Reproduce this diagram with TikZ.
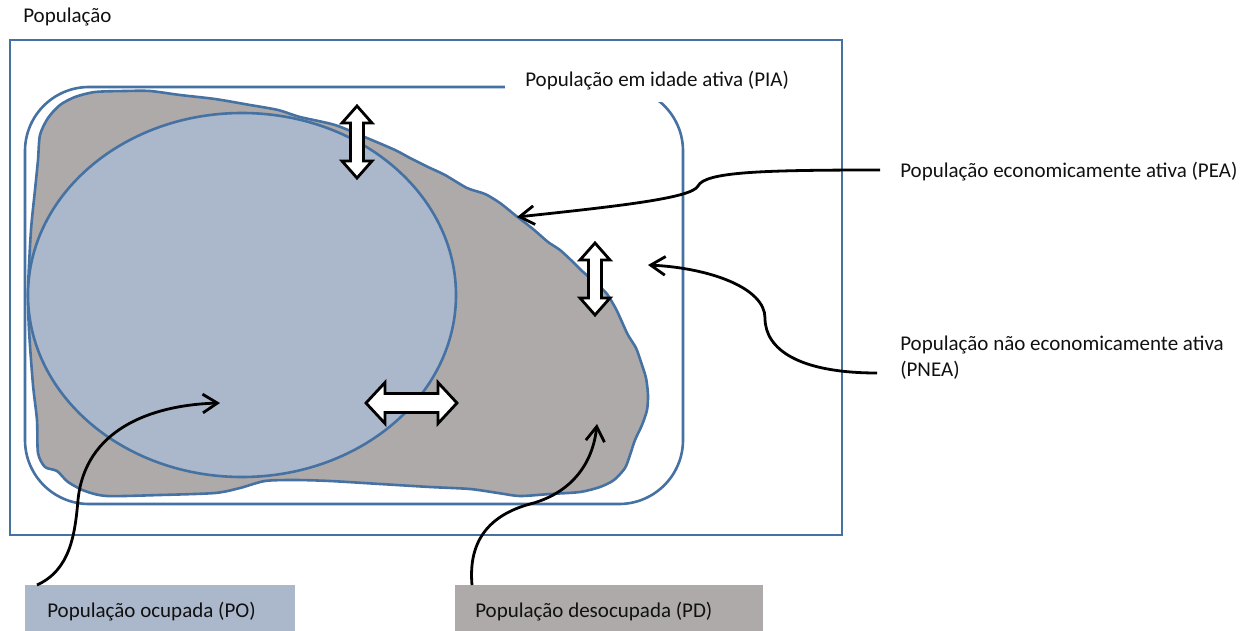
\documentclass[tikz,border=0pt]{standalone}
\usepackage{fontspec}
\setmainfont{Carlito}
\usetikzlibrary{arrows.meta}
\definecolor{edgeblue}{HTML}{4572A3}
\definecolor{pofill}{HTML}{ABB8CB}
\definecolor{pdfill}{HTML}{AEAAA9}
\definecolor{txt}{HTML}{111111}
\newcommand\lblfont{\fontsize{15.75pt}{18pt}\selectfont}
\tikzset{
  blueline/.style={draw=edgeblue, line width=1.95pt},
  conn/.style={draw=black, line width=2.1pt, -{Straight Barb[length=11pt,width=14pt]}},
  arrowbox/.style={draw=black, fill=white, line width=2.1pt, line join=miter},
  lbl/.style={font=\lblfont, text=txt, inner sep=0pt, anchor=base west},
  pics/dbl/.style args={#1/#2/#3/#4}{code={
    \draw[arrowbox] (0,0) -- (#4,#2) -- (#4,#3) -- (#1-#4,#3) -- (#1-#4,#2) -- (#1,0)
      -- (#1-#4,-#2) -- (#1-#4,-#3) -- (#4,-#3) -- (#4,-#2) -- cycle;}}
}
\begin{document}
\begin{tikzpicture}[x=0.75pt,y=-0.75pt]
\useasboundingbox (0,0) rectangle (1245,631);
% outer population rectangle
\draw[blueline] (10,40) rectangle (842,535);
\node[lbl] (pop) at (23,23) {População};
% PIA rounded rectangle
\draw[blueline, rounded corners=48pt] (25,87) rectangle (683,504);
% PEA blob
\draw[blueline, fill=pdfill] plot[smooth cycle, tension=0.45] coordinates {
(40,135) (48,118) (60,105) (75,97) (95,92) (125,91) (150,91) (180,95) (215,99) (250,105)
(278,110) (300,117) (335,125) (367,138) (395,150) (410,158) (428,167) (445,175) (467,188)
(485,194) (500,203) (515,215) (533,229) (548,242) (560,250) (573,262) (582,271) (596,283)
(607,294) (616,309) (622,322) (628,335) (636,348) (641,362) (646,378) (648,395) (647,410)
(642,425) (635,440) (630,455) (625,468) (614,480) (600,487) (580,492) (550,494) (520,496)
(498,493) (470,489) (430,487) (380,484) (330,481) (295,480) (265,481) (240,488) (215,493)
(160,495) (107,496) (85,491) (68,482) (57,471) (45,467) (38,453) (37,420) (33,385) (29,330)
(28,290) (31,230) (35,190) (38,160)};
% PO ellipse
\draw[blueline, fill=pofill] (242,295) ellipse [x radius=214, y radius=182];
% PIA label with white box hiding part of the rounded rectangle
\fill[white] (505,58) rectangle (812,102);
\node[lbl] (pia) at (525,87) {População em idade ativa (PIA)};
% double arrows
\pic[rotate=90] at (357,178) {dbl=72/15/6.5/17};
\pic[rotate=90] at (595,315) {dbl=72/15/6.5/17};
\pic at (366,403) {dbl=91/20.5/9.5/19};
% labels
\node[lbl] (pea) at (900,178) {População economicamente ativa (PEA)};
\node[lbl, align=left, anchor=north west] (pnea) at (900,336) {População não economicamente ativa\\[1pt](PNEA)};
\node[fill=pofill, inner sep=0pt, minimum width=202.5pt, minimum height=34pt, anchor=north west] (pobox) at (25,585) {};
\node[lbl] (po) at (47,617) {População ocupada (PO)};
\node[fill=pdfill, inner sep=0pt, minimum width=231pt, minimum height=34pt, anchor=north west] (pdbox) at (455,585) {};
\node[lbl] (pd) at (475,617) {População desocupada (PD)};
% connector ends
\coordinate (peaS) at (880,170);
\coordinate (peaT) at (517,217);
\coordinate (pneaS) at (877,373);
\coordinate (pneaT) at (648,265);
\coordinate (poS) at (37,585);
\coordinate (poT) at (220,403);
\coordinate (pdS) at (472,585);
\coordinate (pdT) at (597,424);
% connectors
\draw[conn] (peaS) .. controls (760,170) and (705,172) .. (698,186) .. controls (692,198) and (620,206) .. (peaT);
\draw[conn] (pneaS) .. controls (800,373) and (765,350) .. (765,318) .. controls (765,288) and (710,268) .. (pneaT);
\draw[conn] (poS) .. controls (70,570) and (75,535) .. (78,500) .. controls (85,430) and (150,405) .. (poT);
\draw[conn] (pdS) .. controls (468,540) and (490,515) .. (530,504) .. controls (565,495) and (592,470) .. (pdT);
\end{tikzpicture}
\end{document}
